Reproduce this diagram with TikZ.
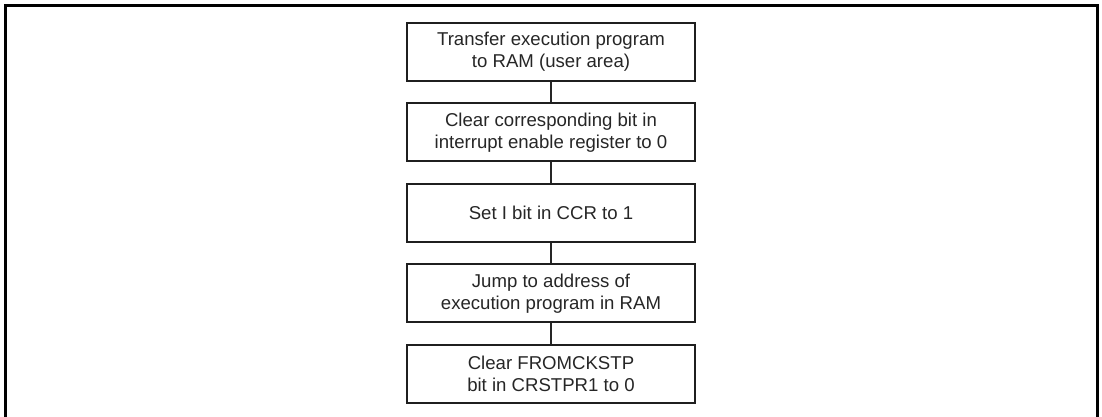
\documentclass[tikz,border=0pt]{standalone}
\usepackage{fontspec}
\setmainfont{Liberation Sans}
\begin{document}
\begin{tikzpicture}[x=1pt,y=-1pt,
  stepbox/.style={draw=black!88, line width=2.4pt, minimum width=288pt, minimum height=58pt,
    inner sep=0pt, align=center, font=\fontsize{18.6pt}{22pt}\selectfont, text=black!85},
  conn/.style={draw=black!85, line width=1.2pt},
  frame/.style={draw=black, line width=2.6pt}]
\useasboundingbox (0,0) rectangle (1102,416);
\draw[frame] (5.3,425) -- (5.3,5.7) -- (1097.6,5.7) -- (1097.6,425);
\node[stepbox] (b1) at (551,51.7) {Transfer execution program\\to RAM (user area)};
\node[stepbox] (b2) at (551,132.2) {Clear corresponding bit in\\interrupt enable register to 0};
\node[stepbox] (b3) at (551,212.7) {Set I bit in CCR to 1};
\node[stepbox] (b4) at (551,293.2) {Jump to address of\\execution program in RAM};
\node[stepbox] (b5) at (551,373.7) {Clear FROMCKSTP\\bit in CRSTPR1 to 0};
\draw[conn] (b1) -- (b2);
\draw[conn] (b2) -- (b3);
\draw[conn] (b3) -- (b4);
\draw[conn] (b4) -- (b5);
\end{tikzpicture}
\end{document}
